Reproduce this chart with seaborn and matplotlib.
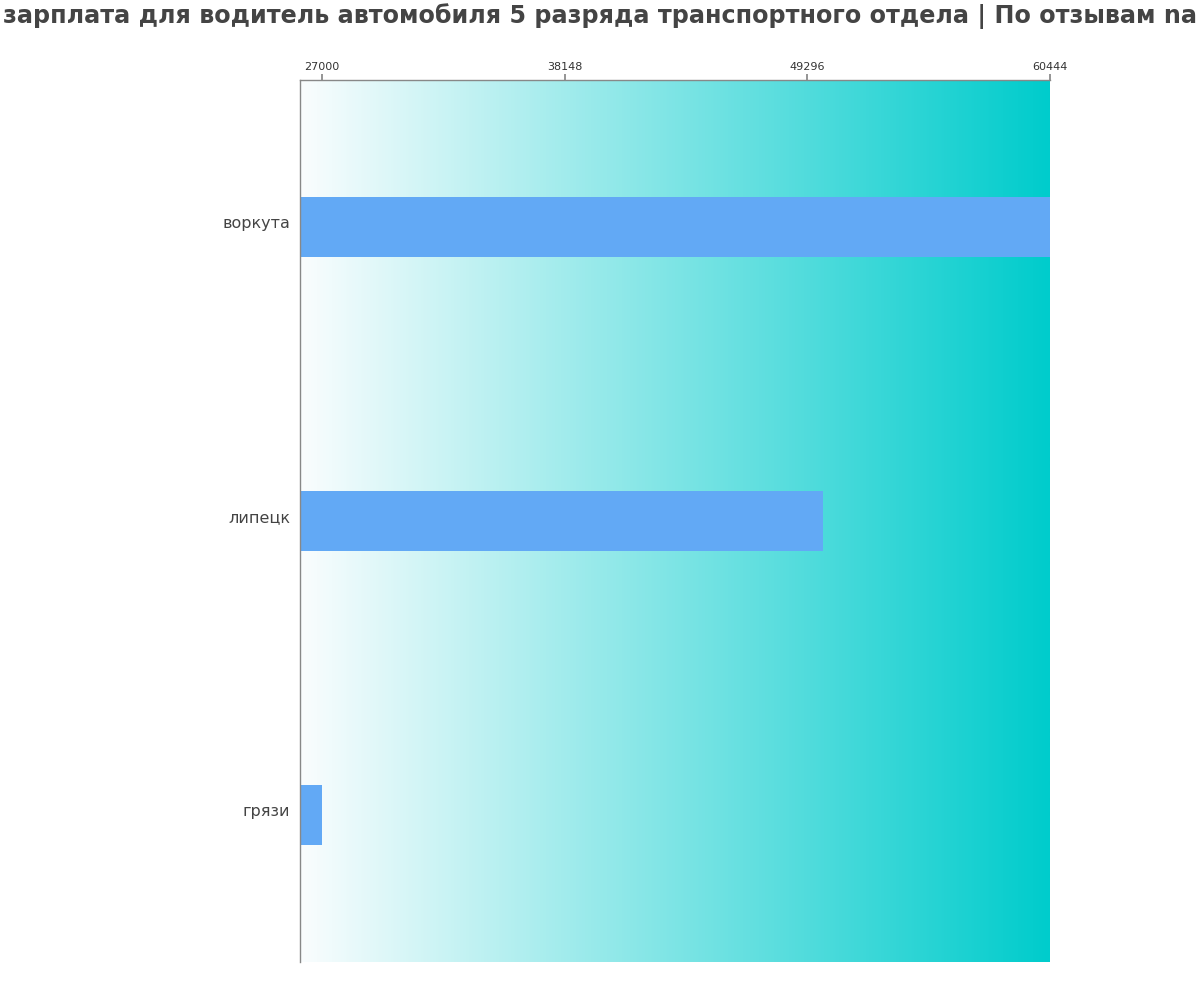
import numpy as np
import pandas as pd
import matplotlib
matplotlib.use("Agg")
import matplotlib.pyplot as plt
from matplotlib.colors import LinearSegmentedColormap
from matplotlib.transforms import ScaledTranslation
import seaborn as sns

# data
cities = ["воркута", "липецк", "грязи"]
salaries = [60444, 50000, 27000]
tick_values = [27000, 38148, 49296, 60444]
title = "зарплата для водитель автомобиля 5 разряда транспортного отдела | По отзывам na"

sns.set_theme(style="white")
plt.rcParams['font.family'] = ['DejaVu Sans']

df = pd.DataFrame({"city": cities, "salary": salaries})

fig = plt.figure(figsize=(12, 10), dpi=100)
ax = fig.add_axes([0.25, 0.038, 0.625, 0.882])

x_lo, x_hi = 25980, max(salaries)

# gradient background
grad_cmap = LinearSegmentedColormap.from_list("bg", ["#fafdfe", "#00cccc"])
ax.imshow(np.linspace(0, 1, 256).reshape(1, -1), cmap=grad_cmap, aspect="auto",
          extent=[x_lo, x_hi, 2.5, -0.5], zorder=0)

sns.barplot(data=df, x="salary", y="city", orient="h", color="#62a9f5",
            width=0.205, saturation=1, linewidth=0, ax=ax, zorder=2)

ax.set_xlim(x_lo, x_hi)
ax.set_ylim(2.5, -0.5)
ax.set_xlabel("")
ax.set_ylabel("")
ax.xaxis.tick_top()
ax.set_xticks(tick_values)
ax.set_xticklabels([str(v) for v in tick_values], fontsize=8, color="#333333")
ax.tick_params(axis="x", length=4, color="#888888", pad=2)
ax.tick_params(axis="y", length=0, labelsize=11.5, labelcolor="#444444", pad=7)
for lab in ax.get_yticklabels():
    lab.set_transform(lab.get_transform() + ScaledTranslation(0, 0.05, fig.dpi_scale_trans))

for s in ["right", "bottom"]:
    ax.spines[s].set_visible(False)
for s in ["left", "top"]:
    ax.spines[s].set_color("#888888")
    ax.spines[s].set_linewidth(1)

fig.text(0.5, 0.997, title, ha="center", va="top", fontsize=17.2,
         fontweight="bold", color="#444444")

fig.savefig("out.png", dpi=100)
